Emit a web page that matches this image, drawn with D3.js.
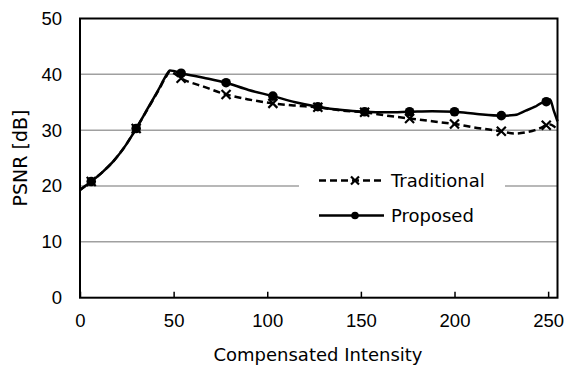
<!DOCTYPE html>
<html>
<head>
<meta charset="utf-8">
<script src="https://cdn.jsdelivr.net/npm/d3@7"></script>
<style>
  body { margin: 0; background: #fff; }
  svg { display: block; }
  text { fill: #000; }
</style>
</head>
<body>
<svg id="chart" width="567" height="365"></svg>
<script>
const xValues = [0, 6, 12, 18, 24, 30, 36, 42, 46, 48, 50, 54, 66, 78, 90, 103, 115, 127, 140, 152, 164, 176, 188, 200, 212, 225, 232, 238, 243, 246, 249, 251, 253, 255];
const traditional = [19.3, 20.8, 22.5, 24.5, 27.1, 30.3, 33.7, 37.2, 39.6, 40.5, 40.2, 39.3, 37.8, 36.4, 35.5, 34.8, 34.4, 34.1, 33.5, 33.2, 32.6, 32.1, 31.6, 31.1, 30.4, 29.8, 29.4, 29.6, 30.0, 30.4, 30.9, 31.0, 30.7, 30.1];
const proposed = [19.3, 20.8, 22.5, 24.5, 27.1, 30.3, 33.8, 37.3, 39.8, 40.7, 40.6, 40.2, 39.4, 38.5, 37.2, 36.1, 35.0, 34.2, 33.6, 33.3, 33.2, 33.3, 33.4, 33.3, 32.9, 32.6, 32.7, 33.5, 34.2, 34.8, 35.1, 35.5, 33.5, 31.6];
const markerX = [6, 30, 54, 78, 103, 127, 152, 176, 200, 225, 249];
const xTicks = [0, 50, 100, 150, 200, 250];
const yTicks = [0, 10, 20, 30, 40, 50];
const seriesNames = ["Traditional", "Proposed"];
const xTitle = "Compensated Intensity";
const yTitle = "PSNR [dB]";

const tickFont = "Liberation Sans, Arial, sans-serif";
const labelFont = "DejaVu Sans, sans-serif";

const svg = d3.select("#chart");
const x = d3.scaleLinear().domain([0, 255]).range([80, 557.5]);
const y = d3.scaleLinear().domain([0, 50]).range([297.7, 18.5]);

// gridlines
svg.append("g").selectAll("line").data(yTicks.filter(d => d > 0 && d < 50)).join("line")
  .attr("x1", x(0)).attr("x2", x(255))
  .attr("y1", d => y(d)).attr("y2", d => y(d))
  .attr("stroke", "#a0a0a0").attr("stroke-width", 1.5);

// frame
svg.append("rect").attr("x", x(0)).attr("y", y(50))
  .attr("width", x(255) - x(0)).attr("height", y(0) - y(50))
  .attr("fill", "none").attr("stroke", "#000").attr("stroke-width", 2);

// x axis ticks (inward) and labels
const xAxis = d3.axisBottom(x).tickValues(xTicks).tickSizeInner(-6).tickSizeOuter(0).tickPadding(16);
const gx = svg.append("g").attr("transform", `translate(0,${y(0)})`).call(xAxis);
gx.select(".domain").remove();
gx.selectAll(".tick line").attr("stroke", "#000").attr("stroke-width", 1.5);
gx.selectAll(".tick text").attr("font-size", 18.5).attr("font-family", tickFont).attr("fill", "#000");

// y axis labels
const yAxis = d3.axisLeft(y).tickValues(yTicks).tickSize(0).tickPadding(18);
const gy = svg.append("g").attr("transform", `translate(${x(0)},0)`).call(yAxis);
gy.select(".domain").remove();
gy.selectAll(".tick text").attr("font-size", 18.5).attr("font-family", tickFont).attr("fill", "#000");

// titles
svg.append("text").attr("x", 318).attr("y", 361).attr("text-anchor", "middle")
  .attr("font-family", labelFont).attr("font-size", 18).text(xTitle);
svg.append("text").attr("transform", "translate(27,158) rotate(-90)").attr("text-anchor", "middle")
  .attr("font-family", labelFont).attr("font-size", 19).text(yTitle);

// lines
const line = d3.line().x(d => x(d[0])).y(d => y(d[1])).curve(d3.curveMonotoneX);
const tradData = xValues.map((v, i) => [v, traditional[i]]);
const propData = xValues.map((v, i) => [v, proposed[i]]);

svg.append("path").datum(tradData).attr("d", line)
  .attr("fill", "none").attr("stroke", "#000").attr("stroke-width", 2.5)
  .attr("stroke-dasharray", "7,4");
svg.append("path").datum(propData).attr("d", line)
  .attr("fill", "none").attr("stroke", "#000").attr("stroke-width", 2.5);

function xMark(g, cx, cy, s) {
  g.append("path").attr("d", `M${cx - s},${cy - s}L${cx + s},${cy + s}M${cx - s},${cy + s}L${cx + s},${cy - s}`)
    .attr("stroke", "#000").attr("stroke-width", 2.2).attr("fill", "none");
}

const mk = svg.append("g");
tradData.filter(d => markerX.includes(d[0])).forEach(d => xMark(mk, x(d[0]), y(d[1]), 4.5));
mk.selectAll("circle").data(propData.filter(d => markerX.includes(d[0]))).join("circle")
  .attr("cx", d => x(d[0])).attr("cy", d => y(d[1])).attr("r", 4.8).attr("fill", "#000");

// legend
const lg = svg.append("g");
lg.append("rect").attr("x", 299).attr("y", 158).attr("width", 206).attr("height", 74).attr("fill", "#fff");
lg.append("line").attr("x1", 319).attr("x2", 384).attr("y1", 180.5).attr("y2", 180.5)
  .attr("stroke", "#000").attr("stroke-width", 2.5).attr("stroke-dasharray", "7,4");
xMark(lg, 355, 180.5, 4);
lg.append("text").attr("x", 391).attr("y", 187).attr("font-family", labelFont).attr("font-size", 18).text(seriesNames[0]);
lg.append("line").attr("x1", 319).attr("x2", 384).attr("y1", 215.5).attr("y2", 215.5)
  .attr("stroke", "#000").attr("stroke-width", 2.5);
lg.append("circle").attr("cx", 355).attr("cy", 215.5).attr("r", 3.8).attr("fill", "#000");
lg.append("text").attr("x", 391).attr("y", 222).attr("font-family", labelFont).attr("font-size", 18).text(seriesNames[1]);
</script>
</body>
</html>
